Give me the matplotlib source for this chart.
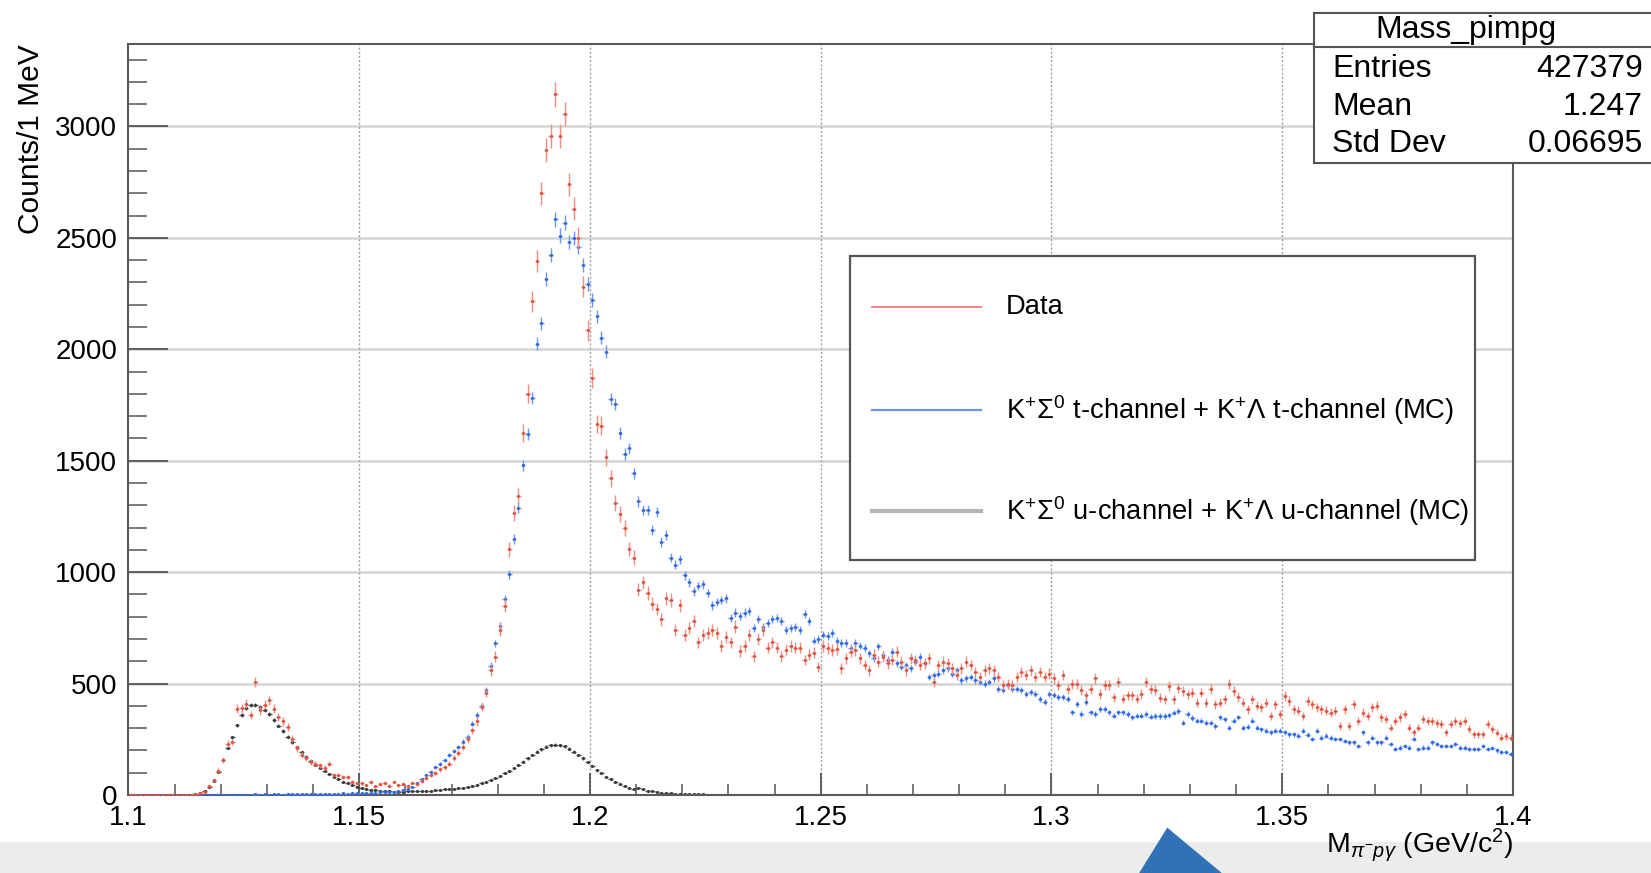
import matplotlib
matplotlib.use('Agg')
import matplotlib.pyplot as plt
from matplotlib.patches import Rectangle, Polygon
from matplotlib.ticker import MultipleLocator
import numpy as np

plt.rcParams.update({'font.family': ['Liberation Sans', 'DejaVu Sans'],
                     'mathtext.fontset': 'custom',
                     'mathtext.rm': 'Liberation Sans',
                     'mathtext.it': 'Liberation Sans:italic',
                     'mathtext.bf': 'Liberation Sans:bold',
                     'font.size': 18})

RED = '#e0533f'; BLUE = '#2f6ae6'; GREY = '#3c3c3c'

# histogram Mass_pimpg: 300 bins of 1 MeV between 1.1 and 1.4 GeV
x_lo, x_hi, n_bins = 1.1, 1.4, 300

data_counts = [
    0, 0, 0, 0, 0, 0, 0, 0, 0, 0,
    0, 0, 0, 2, 4, 7, 15, 42, 67, 110,
    156, 231, 238, 387, 390, 410, 360, 507, 380, 405,
    425, 387, 350, 330, 305, 253, 209, 179, 164, 149,
    140, 134, 122, 141, 89, 89, 82, 82, 60, 52,
    52, 45, 58, 40, 48, 55, 42, 60, 45, 50,
    42, 55, 48, 62, 75, 90, 100, 115, 125, 140,
    165, 190, 215, 250, 290, 330, 395, 460, 560, 620,
    740, 850, 1102, 1266, 1343, 1626, 1801, 2216, 2395, 2700,
    2893, 2958, 3144, 2958, 3056, 2740, 2631, 2500, 2281, 2085,
    1871, 1666, 1658, 1516, 1421, 1310, 1262, 1199, 1104, 1065,
    922, 954, 906, 859, 835, 788, 883, 875, 740, 851,
    717, 748, 780, 685, 717, 725, 740, 725, 669, 709,
    685, 756, 646, 669, 717, 622, 701, 740, 661, 685,
    661, 622, 653, 669, 661, 661, 606, 630, 638, 574,
    669, 659, 651, 655, 568, 614, 644, 651, 614, 583,
    560, 629, 598, 621, 591, 606, 644, 598, 560, 614,
    606, 583, 591, 614, 508, 583, 598, 591, 568, 538,
    568, 598, 583, 553, 530, 560, 568, 560, 530, 492,
    500, 492, 530, 553, 538, 560, 530, 553, 530, 545,
    523, 492, 538, 477, 500, 500, 470, 447, 477, 523,
    454, 492, 492, 439, 508, 432, 447, 447, 432, 454,
    508, 477, 470, 437, 430, 490, 430, 482, 467, 452,
    460, 415, 460, 415, 475, 407, 415, 430, 497, 467,
    440, 415, 385, 430, 400, 393, 415, 355, 407, 363,
    445, 422, 385, 378, 355, 422, 407, 393, 385, 378,
    370, 378, 310, 385, 310, 407, 333, 370, 355, 393,
    400, 348, 340, 303, 333, 348, 363, 303, 281, 303,
    340, 333, 333, 325, 318, 281, 318, 333, 325, 333,
    296, 273, 273, 273, 318, 296, 280, 258, 265, 258,
]

t_channel_mc = [
    0, 0, 0, 0, 0, 0, 0, 0, 0, 0,
    0, 0, 0, 0, 0, 0, 0, 0, 1, 1,
    1, 2, 1, 2, 2, 1, 2, 3, 2, 3,
    2, 3, 3, 2, 4, 3, 3, 4, 3, 4,
    4, 5, 4, 6, 5, 6, 7, 6, 8, 8,
    8, 9, 10, 11, 12, 13, 14, 15, 18, 22,
    28, 38, 55, 70, 90, 105, 125, 140, 155, 180,
    198, 215, 240, 262, 320, 360, 400, 470, 580, 680,
    760, 880, 990, 1150, 1290, 1480, 1620, 1780, 2024, 2117,
    2314, 2423, 2583, 2510, 2569, 2482, 2500, 2460, 2380, 2292,
    2220, 2148, 2053, 1990, 1777, 1753, 1626, 1531, 1555, 1444,
    1318, 1278, 1278, 1191, 1270, 1136, 1167, 1065, 1033, 1057,
    986, 954, 914, 938, 946, 906, 851, 867, 875, 883,
    796, 819, 804, 819, 827, 748, 788, 756, 772, 788,
    796, 780, 740, 748, 756, 740, 811, 780, 693, 701,
    720, 715, 727, 690, 682, 682, 659, 682, 670, 659,
    636, 614, 667, 629, 606, 644, 591, 576, 583, 568,
    598, 621, 591, 530, 538, 545, 560, 568, 545, 560,
    515, 523, 530, 515, 508, 500, 508, 523, 477, 470,
    492, 477, 477, 470, 454, 462, 454, 432, 417, 454,
    447, 439, 439, 432, 371, 409, 364, 417, 371, 364,
    386, 386, 371, 356, 371, 371, 364, 348, 356, 356,
    364, 352, 355, 355, 355, 358, 370, 378, 325, 363,
    345, 333, 333, 325, 325, 310, 348, 340, 303, 333,
    348, 303, 307, 333, 303, 296, 288, 281, 288, 288,
    281, 273, 273, 266, 288, 270, 251, 288, 258, 266,
    258, 251, 251, 243, 236, 236, 221, 281, 236, 258,
    236, 236, 258, 228, 206, 213, 221, 213, 251, 206,
    213, 213, 236, 228, 221, 221, 221, 228, 213, 213,
    206, 206, 206, 221, 206, 210, 200, 195, 191, 184,
]

u_channel_mc = [
    0, 0, 0, 0, 0, 0, 0, 0, 0, 0,
    0, 0, 0, 2, 5, 10, 18, 35, 65, 105,
    157, 213, 259, 313, 358, 390, 402, 403, 395, 382,
    362, 338, 312, 288, 262, 238, 214, 192, 172, 153,
    136, 120, 106, 93, 81, 70, 60, 52, 44, 37,
    31, 27, 24, 21, 19, 17, 16, 15, 15, 15,
    16, 17, 17, 18, 19, 20, 22, 24, 26, 28,
    28, 30, 33, 37, 42, 47, 53, 60, 67, 76,
    86, 97, 109, 122, 136, 150, 165, 180, 194, 206,
    216, 223, 226, 224, 218, 208, 195, 180, 164, 147,
    130, 113, 97, 83, 70, 58, 48, 40, 33, 27,
    30, 25, 20, 16, 13, 10, 8, 7, 6, 5,
    4, 4, 3, 3, 3, 2, 2, 2, 2, 1,
    1, 1, 1, 1, 1, 0, 0, 0, 0, 0,
    0, 0, 0, 0, 0, 0, 0, 0, 0, 0,
    0, 0, 0, 0, 0, 0, 0, 0, 0, 0,
    0, 0, 0, 0, 0, 0, 0, 0, 0, 0,
    0, 0, 0, 0, 0, 0, 0, 0, 0, 0,
    0, 0, 0, 0, 0, 0, 0, 0, 0, 0,
    0, 0, 0, 0, 0, 0, 0, 0, 0, 0,
    0, 0, 0, 0, 0, 0, 0, 0, 0, 0,
    0, 0, 0, 0, 0, 0, 0, 0, 0, 0,
    0, 0, 0, 0, 0, 0, 0, 0, 0, 0,
    0, 0, 0, 0, 0, 0, 0, 0, 0, 0,
    0, 0, 0, 0, 0, 0, 0, 0, 0, 0,
    0, 0, 0, 0, 0, 0, 0, 0, 0, 0,
    0, 0, 0, 0, 0, 0, 0, 0, 0, 0,
    0, 0, 0, 0, 0, 0, 0, 0, 0, 0,
    0, 0, 0, 0, 0, 0, 0, 0, 0, 0,
    0, 0, 0, 0, 0, 0, 0, 0, 0, 0,
]

legend_labels = ['Data',
                 r'K$^{+}\Sigma^{0}$ t-channel + K$^{+}\Lambda$ t-channel (MC)',
                 r'K$^{+}\Sigma^{0}$ u-channel + K$^{+}\Lambda$ u-channel (MC)']
stats_rows = [('Entries', '427379'), ('Mean', '1.247'), ('Std Dev', '0.06695')]

edges = np.linspace(x_lo, x_hi, n_bins + 1)
centres = 0.5 * (edges[1:] + edges[:-1])
half_w = 0.5 * (edges[1] - edges[0])
data = np.array(data_counts, float)
tmc = np.array(t_channel_mc, float)
umc = np.array(u_channel_mc, float)

fig = plt.figure(figsize=(16.51, 8.73), dpi=100)
ax = fig.add_axes([0.0778, 0.0893, 0.8386, 0.8603])

# grid first, ROOT style
for v in np.arange(500, 3500, 500):
    ax.axhline(v, color='#d4d4d4', lw=1.8, zorder=0)
for v in np.arange(1.15, 1.40, 0.05):
    ax.axvline(v, color='#a0a0a0', lw=1.0, ls=(0, (1.5, 1.5)), zorder=0)

ax.errorbar(centres, umc, xerr=half_w, yerr=0.45 * np.sqrt(umc), fmt='.', ms=2.5,
            color=GREY, ecolor='#555555', elinewidth=1.0, zorder=2)
ax.errorbar(centres, tmc, xerr=half_w, yerr=0.65 * np.sqrt(tmc), fmt='.', ms=2.5,
            color=BLUE, ecolor='#6f95ee', elinewidth=1.0, zorder=3)
ax.errorbar(centres, data, xerr=half_w, yerr=np.sqrt(data), fmt='.', ms=2.5,
            color=RED, ecolor='#ee8d80', elinewidth=1.0, zorder=4)

ax.set_xlim(x_lo, x_hi)
ax.set_ylim(0, 3370)
ax.xaxis.set_major_locator(MultipleLocator(0.05))
ax.xaxis.set_minor_locator(MultipleLocator(0.01))
ax.yaxis.set_major_locator(MultipleLocator(500))
ax.yaxis.set_minor_locator(MultipleLocator(100))
ax.set_xticks([1.1, 1.15, 1.2, 1.25, 1.3, 1.35, 1.4])
ax.set_xticklabels(['1.1', '1.15', '1.2', '1.25', '1.3', '1.35', '1.4'])
ax.tick_params(axis='x', which='major', direction='in', length=16, width=1.3, pad=7,
               labelsize=20, color='#555555')
ax.tick_params(axis='x', which='minor', direction='in', length=8, width=1.1, color='#555555')
ax.tick_params(axis='y', which='major', direction='in', length=29, width=1.3, pad=8,
               labelsize=20, color='#555555')
ax.tick_params(axis='y', which='minor', direction='in', length=14, width=1.1, color='#555555')
for s in ax.spines.values():
    s.set_color('#5a5a5a'); s.set_linewidth(1.5)

fig.text(0.019, 0.949, 'Counts/1 MeV', rotation=90, ha='center', va='top', fontsize=21.5)
fig.text(0.9164, 0.032, r'M$_{\pi^{-}p\gamma}$ (GeV/c$^{2}$)', ha='right', va='center', fontsize=20.5)

# legend box
fig.add_artist(Rectangle((0.5148, 0.3585), 0.3786, 0.3482, transform=fig.transFigure,
                         facecolor='white', edgecolor='#555555', lw=1.6, zorder=10))
leg_y = [0.6483, 0.5304, 0.4147]
leg_col = ['#f27a70', '#6a96f2', '#b5b5b5']
leg_lw = [1.3, 1.6, 3.0]
for yy, lab, c, lw in zip(leg_y, legend_labels, leg_col, leg_lw):
    fig.add_artist(plt.Line2D([0.5282, 0.5942], [yy, yy], transform=fig.transFigure,
                              color=c, lw=lw, zorder=11))
    fig.text(0.6093, yy, lab, ha='left', va='center', fontsize=19.7, zorder=11)

# stats box
fig.add_artist(Rectangle((0.7959, 0.8133), 0.22, 0.1723, transform=fig.transFigure,
                         facecolor='white', edgecolor='#555555', lw=1.5, zorder=10))
fig.add_artist(plt.Line2D([0.7959, 1.0], [0.9462, 0.9462], transform=fig.transFigure,
                          color='#555555', lw=1.5, zorder=11))
fig.text(0.888, 0.9656, 'Mass_pimpg', ha='center', va='center', fontsize=23, zorder=11)
for yy, (k, v) in zip([0.921, 0.8774, 0.835], stats_rows):
    fig.text(0.8068, yy, k, ha='left', va='center', fontsize=23, zorder=11)
    fig.text(0.9952, yy, v, ha='right', va='center', fontsize=23, zorder=11)

# slide footer behind the chart
fig.add_artist(Rectangle((0, 0), 1, 0.036, transform=fig.transFigure,
                         facecolor='#ececec', edgecolor='none', zorder=-5))
fig.add_artist(Polygon([(0.690, 0.0), (0.707, 0.052), (0.740, 0.0)], closed=True,
                       transform=fig.transFigure, facecolor='#2f72b5', edgecolor='none', zorder=-4))

fig.savefig('out.png', dpi=100)
